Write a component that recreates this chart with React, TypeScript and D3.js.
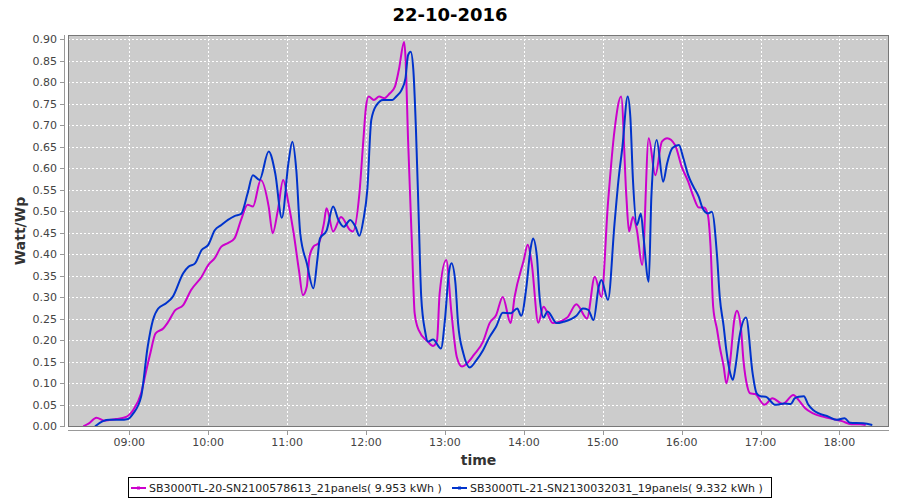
import React from "react";
import * as d3 from "d3";

const TITLE = "22-10-2016";
const X_LABEL = "time";
const Y_LABEL = "Watt/Wp";

const SERIES_NAMES = [
  "SB3000TL-20-SN2100578613_21panels( 9.953 kWh )",
  "SB3000TL-21-SN2130032031_19panels( 9.332 kWh )",
];
const SERIES_COLORS = ["#cc00cc", "#0033cc"];

const Y_TICKS = [0, 0.05, 0.1, 0.15, 0.2, 0.25, 0.3, 0.35, 0.4, 0.45, 0.5, 0.55, 0.6, 0.65, 0.7, 0.75, 0.8, 0.85, 0.9];
const X_TICKS = ["09:00", "10:00", "11:00", "12:00", "13:00", "14:00", "15:00", "16:00", "17:00", "18:00"];

const M_TIMES = [
  "08:25","08:29","08:35","08:41","08:50","08:57","09:03","09:09","09:13","09:16",
  "09:20","09:26","09:29","09:35","09:41","09:47","09:55","10:00","10:05","10:10",
  "10:15","10:20","10:25","10:30","10:34","10:40","10:46","10:49","10:53","10:57",
  "11:01","11:05","11:09","11:12","11:15","11:17","11:20","11:24","11:28","11:30",
  "11:35","11:41","11:48","11:50","11:55","11:58","12:00","12:02","12:06","12:10",
  "12:14","12:18","12:22","12:25","12:29","12:30","12:32","12:35","12:37","12:40",
  "12:47","12:51","12:54","12:56","13:01","13:05","13:09","13:13","13:17","13:22",
  "13:29","13:34","13:39","13:44","13:50","13:53","14:00","14:03","14:06","14:11",
  "14:15","14:22","14:33","14:40","14:48","14:54","14:59","15:04","15:09","15:14",
  "15:18","15:20","15:23","15:26","15:30","15:35","15:40","15:45","15:49","15:55",
  "16:00","16:05","16:09","16:13","16:17","16:20","16:22","16:24","16:27","16:29",
  "16:32","16:34","16:37","16:40","16:42","16:45","16:47","16:50","16:52","16:56",
  "17:03","17:09","17:17","17:25","17:29","17:34","17:40","17:48","17:55","18:02",
  "18:09","18:16","18:20",
];
const M_VALUES = [
  0.000,0.006,0.020,0.013,0.017,0.021,0.038,0.077,0.131,0.170,
  0.216,0.228,0.240,0.270,0.282,0.317,0.348,0.375,0.391,0.418,
  0.426,0.437,0.480,0.515,0.511,0.573,0.511,0.449,0.503,0.573,
  0.519,0.449,0.363,0.305,0.325,0.394,0.418,0.426,0.472,0.507,
  0.453,0.487,0.456,0.453,0.542,0.666,0.743,0.767,0.759,0.767,
  0.763,0.774,0.790,0.829,0.894,0.860,0.666,0.418,0.263,0.224,
  0.197,0.187,0.200,0.309,0.387,0.263,0.162,0.139,0.147,0.166,
  0.197,0.240,0.259,0.301,0.240,0.301,0.387,0.422,0.379,0.241,
  0.278,0.240,0.253,0.284,0.251,0.348,0.301,0.519,0.689,0.767,
  0.534,0.453,0.487,0.456,0.375,0.670,0.584,0.662,0.670,0.654,
  0.604,0.569,0.534,0.509,0.509,0.491,0.418,0.278,0.224,0.185,
  0.139,0.100,0.154,0.247,0.269,0.232,0.154,0.092,0.077,0.075,
  0.050,0.065,0.052,0.073,0.061,0.042,0.030,0.022,0.017,0.012,
  0.005,0.005,0.003,
];

const B_TIMES = [
  "08:34","08:40","08:45","08:53","08:59","09:03","09:09","09:14","09:18","09:22",
  "09:28","09:33","09:41","09:45","09:50","09:55","10:00","10:05","10:10","10:15",
  "10:20","10:25","10:30","10:34","10:39","10:46","10:51","10:56","11:01","11:04",
  "11:07","11:10","11:15","11:20","11:23","11:25","11:30","11:35","11:39","11:43",
  "11:48","11:52","11:55","11:58","12:01","12:04","12:08","12:13","12:20","12:23",
  "12:27","12:30","12:32","12:34","12:36","12:38","12:40","12:42","12:45","12:47",
  "12:51","12:57","13:00","13:03","13:05","13:08","13:10","13:14","13:19","13:24",
  "13:29","13:34","13:39","13:44","13:50","13:55","13:58","14:02","14:05","14:07",
  "14:10","14:12","14:15","14:18","14:25","14:30","14:40","14:45","14:49","14:53",
  "14:57","14:59","15:04","15:09","15:12","15:15","15:19","15:21","15:23","15:26",
  "15:29","15:31","15:35","15:37","15:41","15:46","15:49","15:53","15:58","16:01",
  "16:05","16:09","16:13","16:16","16:20","16:23","16:27","16:29","16:32","16:34",
  "16:37","16:39","16:41","16:44","16:49","16:54","16:57","17:00","17:04","17:11",
  "17:18","17:23","17:26","17:29","17:33","17:36","17:40","17:52","17:58","18:04",
  "18:08","18:18","18:25",
];
const B_VALUES = [
  0.000,0.012,0.015,0.015,0.017,0.030,0.069,0.185,0.247,0.274,
  0.286,0.301,0.356,0.371,0.379,0.410,0.422,0.456,0.468,0.480,
  0.489,0.494,0.542,0.584,0.573,0.639,0.588,0.485,0.612,0.662,
  0.596,0.449,0.379,0.321,0.387,0.437,0.455,0.511,0.480,0.464,
  0.480,0.464,0.443,0.480,0.550,0.712,0.747,0.759,0.759,0.767,
  0.782,0.809,0.863,0.871,0.829,0.689,0.495,0.301,0.220,0.197,
  0.202,0.181,0.247,0.356,0.379,0.333,0.240,0.170,0.137,0.154,
  0.177,0.208,0.232,0.264,0.263,0.274,0.257,0.325,0.410,0.437,
  0.394,0.301,0.253,0.267,0.240,0.243,0.257,0.274,0.271,0.247,
  0.325,0.340,0.294,0.472,0.573,0.650,0.767,0.720,0.573,0.468,
  0.495,0.441,0.336,0.534,0.666,0.569,0.612,0.647,0.654,0.627,
  0.584,0.557,0.534,0.507,0.495,0.499,0.394,0.301,0.232,0.177,
  0.123,0.108,0.139,0.208,0.253,0.123,0.077,0.070,0.069,0.050,
  0.053,0.052,0.065,0.069,0.070,0.052,0.038,0.022,0.015,0.019,
  0.008,0.007,0.003,
];

const toMin = (s: string) => {
  const [h, m] = s.split(":").map(Number);
  return h * 60 + m;
};

const FONT = "'DejaVu Sans', sans-serif";

export default function App() {
  const left = 68, right = 889, top = 35, bottom = 427;
  const x = d3.scaleLinear().domain([493.4, 1117.7]).range([left, right]);
  const y = d3.scaleLinear().domain([-0.0016, 0.91]).range([bottom, top]);

  const series = [
    M_TIMES.map((t, i) => [toMin(t), M_VALUES[i]] as [number, number]),
    B_TIMES.map((t, i) => [toMin(t), B_VALUES[i]] as [number, number]),
  ];
  const line = d3
    .line<[number, number]>()
    .x((d) => x(d[0]))
    .y((d) => y(d[1]))
    .curve(d3.curveMonotoneX);

  const legendItems = [
    { x: 131, textX: 149 },
    { x: 452, textX: 470 },
  ];

  return (
    <svg
      width={900}
      height={500}
      style={{ position: "absolute", left: 0, top: 0, background: "#fff" }}
      fontFamily={FONT}
    >
      <rect x={0} y={0} width={900} height={500} fill="#fff" />
      <text x={450} y={21} textAnchor="middle" fontSize={18} fontWeight="bold" fill="#000">
        {TITLE}
      </text>

      <rect x={left} y={top} width={right - left} height={bottom - top} fill="#cccccc" />

      {Y_TICKS.map((v) => (
        <line key={"gy" + v} x1={left} x2={right} y1={Math.round(y(v)) + 0.5} y2={Math.round(y(v)) + 0.5}
          stroke="#ffffff" strokeWidth={1} strokeDasharray="2 2" />
      ))}
      {X_TICKS.map((t) => (
        <line key={"gx" + t} x1={Math.round(x(toMin(t))) + 0.5} x2={Math.round(x(toMin(t))) + 0.5} y1={top} y2={bottom}
          stroke="#ffffff" strokeWidth={1} strokeDasharray="2 2" />
      ))}

      <defs>
        <clipPath id="plotclip">
          <rect x={left} y={top} width={right - left} height={bottom - top} />
        </clipPath>
      </defs>
      <g clipPath="url(#plotclip)">
        {series.map((s, i) => (
          <path key={i} d={line(s) || ""} fill="none" stroke={SERIES_COLORS[i]} strokeWidth={2}
            strokeLinejoin="round" />
        ))}
      </g>

      <rect x={left + 0.5} y={top + 0.5} width={right - left - 1} height={bottom - top - 1}
        fill="none" stroke="#777" strokeWidth={1} />

      {/* Y axis */}
      <line x1={64.5} x2={64.5} y1={top} y2={bottom} stroke="#999" />
      {Y_TICKS.map((v) => (
        <g key={"ty" + v}>
          <line x1={60} x2={64} y1={Math.round(y(v)) + 0.5} y2={Math.round(y(v)) + 0.5} stroke="#999" />
          <text x={57} y={y(v) + 4} textAnchor="end" fontSize={11} fill="#444">
            {v.toFixed(2)}
          </text>
        </g>
      ))}

      {/* X axis */}
      <line x1={left} x2={right} y1={430.5} y2={430.5} stroke="#999" />
      {X_TICKS.map((t) => (
        <g key={"tx" + t}>
          <line x1={Math.round(x(toMin(t))) + 0.5} x2={Math.round(x(toMin(t))) + 0.5} y1={431} y2={435} stroke="#999" />
          <text x={x(toMin(t))} y={446} textAnchor="middle" fontSize={11} fill="#444">
            {t}
          </text>
        </g>
      ))}

      <text x={(left + right) / 2} y={465} textAnchor="middle" fontSize={14} fontWeight="bold" fill="#333">
        {X_LABEL}
      </text>
      <text transform={`translate(25, ${(top + bottom) / 2}) rotate(-90)`} textAnchor="middle" fontSize={14}
        fontWeight="bold" fill="#333">
        {Y_LABEL}
      </text>

      {/* Legend */}
      <rect x={128.5} y={477.5} width={643} height={20} fill="#fff" stroke="#000" strokeWidth={1} />
      {legendItems.map((it, i) => (
        <g key={"lg" + i}>
          <line x1={it.x} x2={it.x + 15} y1={488} y2={488} stroke={SERIES_COLORS[i]} strokeWidth={2} />
          <rect x={it.x + 6} y={486.5} width={3} height={3} fill={SERIES_COLORS[i]} />
          <text x={it.textX} y={492} fontSize={11} fill="#222">
            {SERIES_NAMES[i]}
          </text>
        </g>
      ))}
    </svg>
  );
}
